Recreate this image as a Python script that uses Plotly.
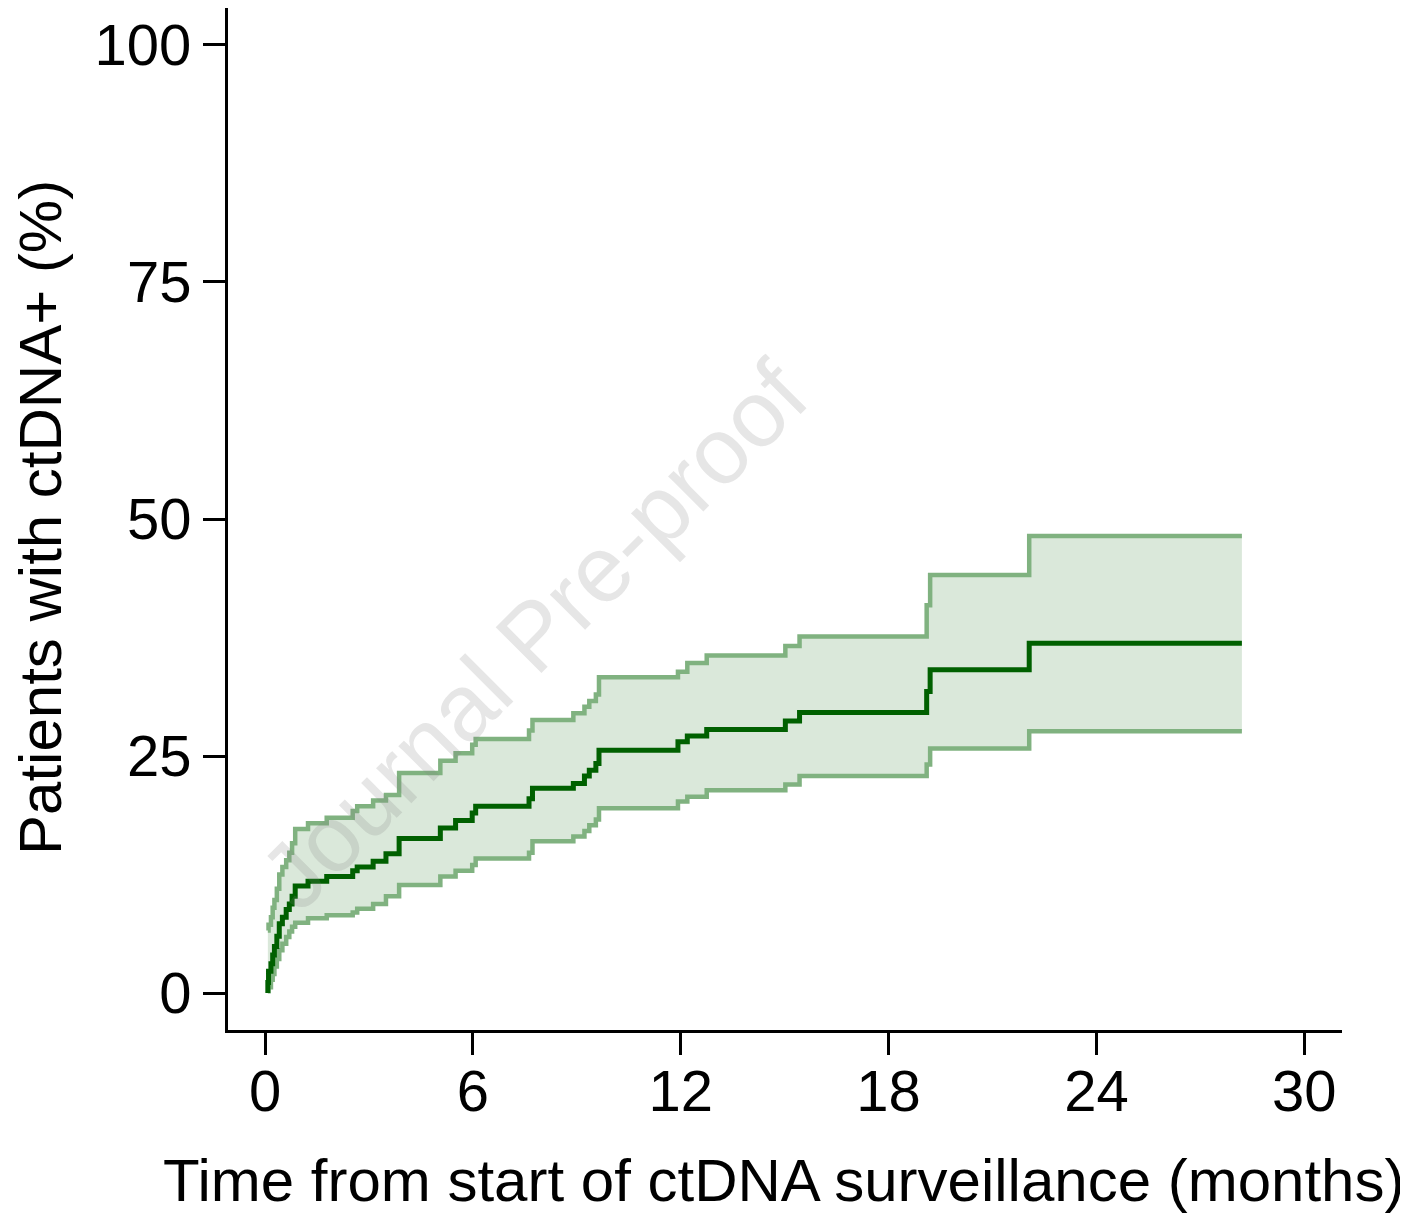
import plotly.graph_objects as go

# Kaplan-Meier style cumulative incidence of ctDNA+ (percent), step function
event_t = [0.08, 0.10, 0.17, 0.22, 0.27, 0.34, 0.41, 0.50, 0.61, 0.70, 0.78, 0.87,
           1.24, 1.78, 2.53, 2.66, 3.12, 3.49, 3.87, 5.06, 5.50, 5.98, 6.08,
           7.62, 7.72, 8.90, 9.22, 9.36, 9.55, 9.64, 11.92, 12.19, 12.75,
           15.02, 15.43, 19.10, 19.20, 22.06, 28.20]
estimate = [1.1, 2.3, 3.1, 4.0, 4.9, 6.0, 7.3, 8.0, 8.8, 9.4, 10.2, 11.3,
            11.8, 12.3, 12.9, 13.3, 13.9, 14.7, 16.3, 17.4, 18.2, 19.0, 19.7,
            20.5, 21.6, 22.1, 22.9, 23.5, 24.2, 25.6, 26.5, 27.1, 27.8,
            28.7, 29.6, 31.8, 34.1, 36.9, 36.9]
lower_ci = [0.2, 0.6, 1.4, 2.0, 2.8, 3.6, 4.5, 5.2, 5.9, 6.5, 7.0, 7.4,
            7.9, 8.2, 8.5, 8.9, 9.4, 10.2, 11.4, 12.3, 12.9, 13.5, 14.2,
            14.8, 16.0, 16.5, 17.1, 17.7, 18.3, 19.5, 20.2, 20.7, 21.4,
            22.0, 22.9, 24.1, 25.8, 27.6, 27.6]
upper_ci = [6.6, 7.2, 8.0, 9.0, 9.8, 11.0, 12.5, 13.3, 14.0, 14.8, 15.8, 17.3,
            17.9, 18.5, 19.2, 19.7, 20.3, 20.9, 23.2, 24.5, 25.3, 26.2, 26.8,
            27.7, 28.8, 29.5, 30.2, 30.8, 31.5, 33.3, 33.9, 34.8, 35.6,
            36.6, 37.6, 40.9, 44.1, 48.2, 48.2]
start_v = [0.0]

x_ticks = [0, 6, 12, 18, 24, 30]
y_ticks = [0, 25, 50, 75, 100]

DARK = "#006000"
CI_COL = "#80B280"
FILL = "#DAE8DA"
FONT = "Liberation Sans, Arial, sans-serif"

fig = go.Figure()
# fill band
fig.add_trace(go.Scatter(x=event_t, y=lower_ci, mode="lines", line=dict(width=0, shape="hv"),
                         showlegend=False, hoverinfo="skip"))
fig.add_trace(go.Scatter(x=event_t, y=upper_ci, mode="lines", line=dict(width=0, shape="hv"),
                         fill="tonexty", fillcolor=FILL, showlegend=False, hoverinfo="skip"))
# CI lines
fig.add_trace(go.Scatter(x=event_t, y=lower_ci, mode="lines", line=dict(color=CI_COL, width=4.5, shape="hv"),
                         showlegend=False))
fig.add_trace(go.Scatter(x=event_t, y=upper_ci, mode="lines", line=dict(color=CI_COL, width=4.5, shape="hv"),
                         showlegend=False))
# estimate
fig.add_trace(go.Scatter(x=[event_t[0]] + event_t, y=start_v + estimate, mode="lines",
                         line=dict(color=DARK, width=5, shape="hv"), showlegend=False))

# page has an 8px body margin; figure coordinates = page coordinates - 8
OFF = 8
W, H = 1400, 1208
L, T = 220, 0
R = W - (1342 - OFF)
B = H - (1030 - OFF)
pw = W - L - R
ph = H - T - B

def px_to_paper_x(px):
    return (px - OFF - L) / pw

def py_to_paper_y(py):
    return (H - B - (py - OFF)) / ph

fig.update_layout(
    width=W, height=H,
    margin=dict(l=L, r=R, t=T, b=B, pad=0),
    paper_bgcolor="white", plot_bgcolor="white",
    font=dict(family=FONT, size=58, color="black"),
    showlegend=False,
    xaxis=dict(range=[-1.07, 31.09], tickvals=x_ticks, ticktext=[str(v) for v in x_ticks],
               showgrid=False, zeroline=False, showline=True, linecolor="black", linewidth=3,
               ticks="outside", ticklen=22, tickwidth=3, tickcolor="black", ticklabelstandoff=-14,
               tickfont=dict(family=FONT, size=58, color="black")),
    yaxis=dict(range=[-3.9, 103.9], tickvals=y_ticks, ticktext=[str(v) for v in y_ticks],
               showgrid=False, zeroline=False, showline=True, linecolor="black", linewidth=3,
               ticks="outside", ticklen=22, tickwidth=3, tickcolor="black",
               tickfont=dict(family=FONT, size=58, color="black")),
    annotations=[
        dict(text="Time from start of ctDNA surveillance (months)", xref="paper", yref="paper",
             x=px_to_paper_x(783.5), y=py_to_paper_y(1180), xanchor="center", yanchor="middle",
             showarrow=False, font=dict(family=FONT, size=60, color="black")),
        dict(text="Patients with ctDNA+ (%)", xref="paper", yref="paper",
             x=px_to_paper_x(40), y=py_to_paper_y(518), xanchor="center", yanchor="middle",
             textangle=-90, showarrow=False, font=dict(family=FONT, size=60, color="black")),
        dict(text="Journal Pre-proof", xref="paper", yref="paper",
             x=px_to_paper_x(533), y=py_to_paper_y(635), xanchor="center", yanchor="middle",
             textangle=-45, showarrow=False,
             font=dict(family=FONT, size=94, color="rgba(128,128,128,0.2)")),
    ],
)

fig.write_html("out.html")
